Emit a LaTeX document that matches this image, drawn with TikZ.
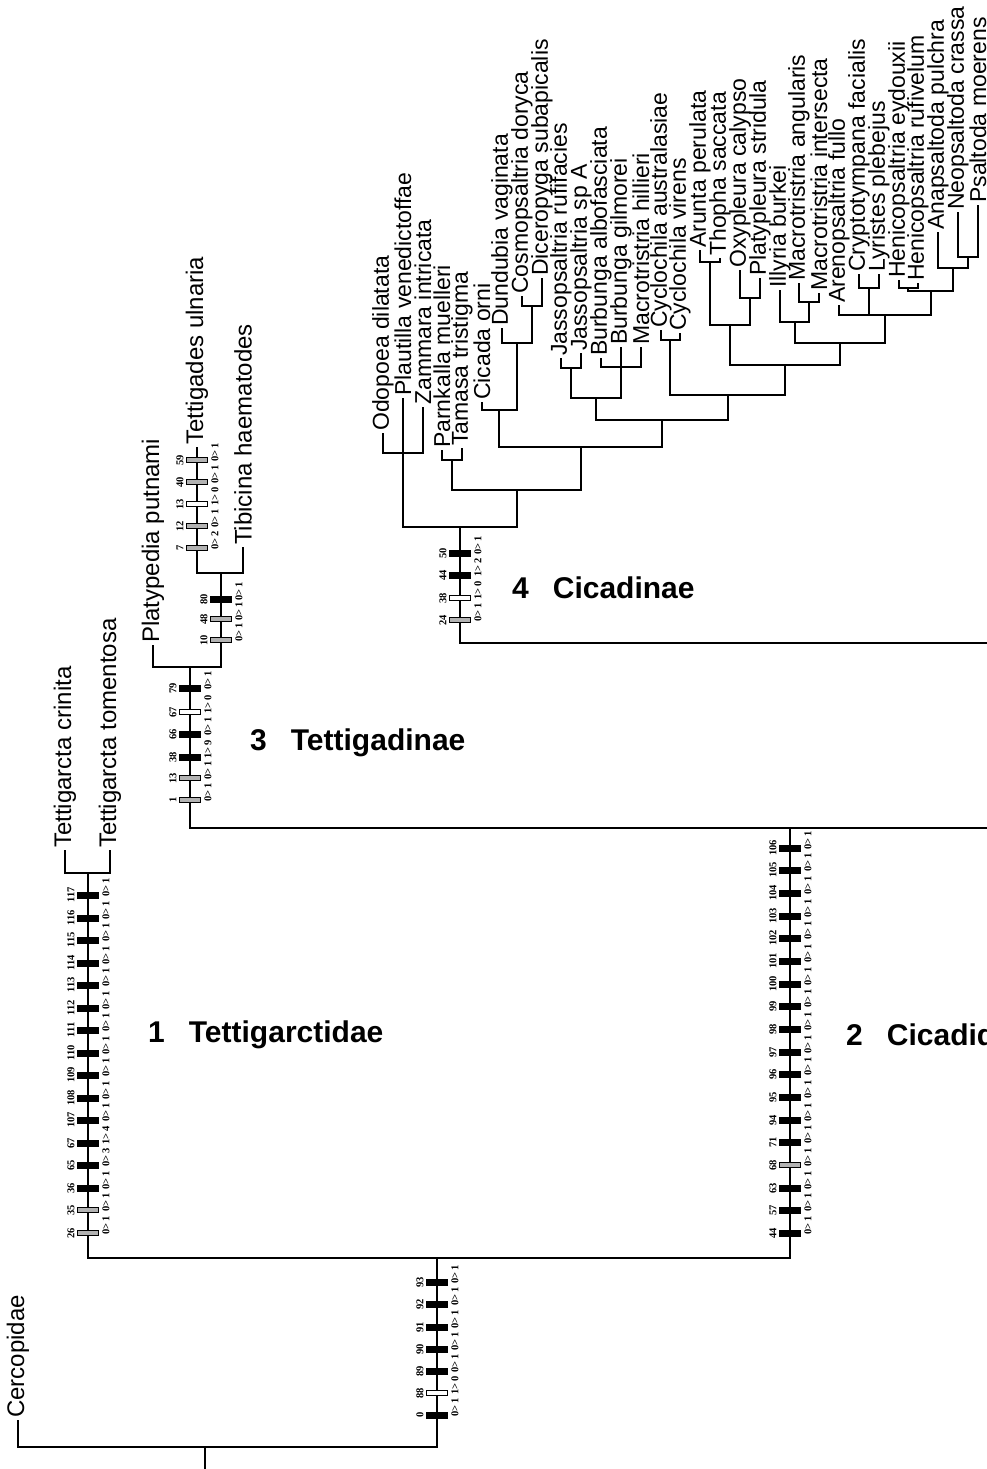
\documentclass[tikz,border=0pt]{standalone}
\usepackage{fontspec}
\setmainfont{Liberation Sans}
\newfontfamily\numfont{Liberation Serif}

\tikzset{
  br/.style={line width=2.2pt},                      % 分支线
  taxon/.style={rotate=90, anchor=west, inner sep=2pt,
    font=\fontsize{24}{24}\selectfont},              % 物种名（竖排）
  ctaxon/.style={taxon, font=\fontsize{23}{23}\selectfont}, % 蝉亚科内
  grp/.style={anchor=west, inner sep=0pt,
    font=\fontsize{30}{30}\selectfont\bfseries},     % 类群编号与名称
  blk/.style={rectangle, fill=black, inner sep=0pt,
    minimum width=22pt, minimum height=7pt},         % 实心：非同塑性变化
  opn/.style={rectangle, draw=black, fill=white, line width=0.9pt,
    inner sep=0pt, minimum width=21pt, minimum height=5.5pt}, % 空心：逆转
  hat/.style={rectangle, draw=black, fill=gray!60, line width=0.8pt,
    inner sep=0pt, minimum width=21pt, minimum height=5.5pt}, % 阴影：同塑性
  cnum/.style={rotate=90, inner sep=0pt,
    font=\numfont\fontsize{10.5}{10.5}\selectfont\bfseries},
  cst/.style={rotate=90, anchor=west, inner sep=0pt,
    font=\numfont\fontsize{10.5}{10.5}\selectfont\bfseries},
}

% 状态变化 a>b，箭头后留一点空
\def\sttx#1>#2\relax{#1>\kern2.5pt#2}
\newcommand\stt[1]{\sttx#1\relax}

% 枝上的性状标记：#1 枝的 x，#2 列表 y/性状号/状态变化/样式
\newcommand\chrbar[2]{%
  \foreach \my/\mn/\ms/\mt in {#2}{%
    \node[\mt] (k#1-\mn) at (#1,\my) {};
    \node[cnum] (kn#1-\mn) at (#1-17,\my) {\mn};
    \node[cst] (ks#1-\mn) at (#1+18,\my+2) {\expandafter\stt\expandafter{\ms}};
  }}

\begin{document}
\begin{tikzpicture}[x=1pt, y=-1pt]
  \useasboundingbox (0,0) rectangle (986,1469);

  % ===== 根与外群 =====
  \coordinate (root) at (205,1469);
  \coordinate (n0) at (205,1447);
  \coordinate (n12) at (437,1258);
  \node[taxon] (cerc) at (18,1420) {Cercopidae};
  \draw[br] (root) -- (n0);
  \draw[br] (n0) -| (cerc.west);
  \draw[br] (n0) -| (n12);

  % ===== 1 Tettigarctidae =====
  \coordinate (n1) at (88,873);
  \node[taxon] (tcri) at (65,850) {Tettigarcta crinita};
  \node[taxon] (ttom) at (110,850) {Tettigarcta tomentosa};
  \draw[br] (n12) -| (n1);
  \draw[br] (n1) -| (tcri.west);
  \draw[br] (n1) -| (ttom.west);

  % ===== 2 Cicadidae（右侧出图）=====
  \coordinate (n2) at (790,828);
  \coordinate (n2r) at (1000,828);
  \coordinate (n3) at (190,667);
  \draw[br] (n12) -| (n2);
  \draw[br] (n2) -- (n2r);
  \draw[br] (n2) -| (n3);

  % ----- 3 Tettigadinae -----
  \coordinate (n3b) at (221,573);
  \node[taxon] (plat) at (153,645) {Platypedia putnami};
  \node[taxon] (tett) at (197,447) {Tettigades ulnaria};
  \node[taxon] (tibi) at (243,547) {Tibicina haematodes};
  \draw[br] (n3) -| (plat.west);
  \draw[br] (n3) -| (n3b);
  \draw[br] (n3b) -| (tett.west);
  \draw[br] (n3b) -| (tibi.west);

  % ----- 4 Cicadinae -----
  \coordinate (n4r) at (1000,643);
  \coordinate (n4) at (460,527);
  \draw[br] (n4r) -| (n4);

  % 末端类群 名称/x/y/标签
  \foreach \nm/\tx/\ty/\lab in {
    odo/383/433/Odopoea dilatata, pla/403/398/Plautilla venedictoffae,
    zam/423/407/Zammara intricata, par/442/450/Parnkalla muelleri,
    tam/462/448/Tamasa tristigma, cic/482/402/Cicada orni,
    dun/502/328/Dundubia vaginata, cos/522/296/Cosmopsaltria doryca,
    dic/542/278/Diceropyga subapicalis, jru/561/358/Jassopsaltria rufifacies,
    jsp/581/353/Jassopsaltria sp A, bal/601/358/Burbunga albofasciata,
    bgi/621/347/Burbunga gilmorei, mhi/641/347/Macrotristria hillieri,
    cau/661/330/Cyclochila australasiae, cvi/680/333/Cyclochila virens,
    aru/700/250/Arunta perulata, tho/720/258/Thopha saccata,
    oxy/740/270/Oxypleura calypso, pls/760/278/Platypleura stridula,
    ill/780/290/Illyria burkei, man/799/283/Macrotristria angularis,
    min/819/293/Macrotristria intersecta, are/839/305/Arenopsaltria fullo,
    cry/859/274/Cryptotympana facialis, lyr/879/274/Lyristes plebejus,
    hey/899/280/Henicopsaltria eydouxii, hru/918/283/Henicopsaltria rufivelum,
    ana/938/232/Anapsaltoda pulchra, neo/958/212/Neopsaltoda crassa,
    psa/978/205/Psaltoda moerens}
    \node[ctaxon] (\nm) at (\tx,\ty) {\lab};

  % 内部节点（竖枝 x，横枝 y）
  \coordinate (nOPZ) at (403,453);
  \coordinate (nPX) at (517,490);
  \coordinate (nPT) at (452,460);
  \coordinate (nX) at (581,447);
  \coordinate (nCO) at (499,410);
  \coordinate (nDN) at (517,343);
  \coordinate (nCS) at (532,306);
  \coordinate (nY) at (662,420);
  \coordinate (nJB) at (596,398);
  \coordinate (nJA) at (571,368);
  \coordinate (nBU) at (621,367);
  \coordinate (nZ) at (728,395);
  \coordinate (nCY) at (670,340);
  \coordinate (nW) at (785,365);
  \coordinate (nAO) at (730,325);
  \coordinate (nAT) at (710,262);
  \coordinate (nOP) at (750,298);
  \coordinate (nIA) at (840,343);
  \coordinate (nIL) at (795,322);
  \coordinate (nMM) at (809,302);
  \coordinate (nAR) at (885,315);
  \coordinate (nCL) at (869,288);
  \coordinate (nHA) at (931,291);
  \coordinate (nHE) at (908,288);
  \coordinate (nAN) at (953,268);
  \coordinate (nNP) at (968,257);

  \foreach \p/\c in {n4/nOPZ, n4/nPX, nPX/nPT, nPX/nX, nX/nCO, nX/nY,
    nCO/nDN, nDN/nCS, nY/nJB, nY/nZ, nJB/nJA, nJB/nBU, nZ/nCY, nZ/nW,
    nW/nAO, nW/nIA, nAO/nAT, nAO/nOP, nIA/nIL, nIA/nAR, nIL/nMM,
    nAR/nCL, nAR/nHA, nHA/nHE, nHA/nAN, nAN/nNP}
    \draw[br] (\p) -| (\c);

  \foreach \p/\c in {nOPZ/odo, nOPZ/pla, nOPZ/zam, nPT/par, nPT/tam,
    nCO/cic, nDN/dun, nCS/cos, nCS/dic, nJA/jru, nJA/jsp, nBU/bal,
    nBU/bgi, nBU/mhi, nCY/cau, nCY/cvi, nAT/aru, nAT/tho, nOP/oxy,
    nOP/pls, nIL/ill, nMM/man, nMM/min, nAR/are, nCL/cry, nCL/lyr,
    nHE/hey, nHE/hru, nAN/ana, nNP/neo, nNP/psa}
    \draw[br] (\p) -| (\c.west);

  % ===== 性状标记 =====
  \chrbar{437}{1415/0/0>1/blk, 1393/88/1>0/opn, 1371/89/0>1/blk,
    1349/90/0>1/blk, 1327/91/0>1/blk, 1304/92/0>1/blk, 1282/93/0>1/blk}

  \chrbar{88}{1233/26/0>1/hat, 1210/35/0>1/hat, 1188/36/0>1/blk,
    1165/65/0>3/blk, 1143/67/1>4/blk, 1120/107/0>1/blk, 1098/108/0>1/blk,
    1075/109/0>1/blk, 1053/110/0>1/blk, 1030/111/0>1/blk, 1008/112/0>1/blk,
    985/113/0>1/blk, 963/114/0>1/blk, 940/115/0>1/blk, 918/116/0>1/blk,
    895/117/0>1/blk}

  \chrbar{790}{1233/44/0>1/blk, 1210/57/0>1/blk, 1188/63/0>1/blk,
    1165/68/0>1/hat, 1142/71/0>1/blk, 1120/94/0>1/blk, 1097/95/0>1/blk,
    1074/96/0>1/blk, 1052/97/0>1/blk, 1029/98/0>1/blk, 1006/99/0>1/blk,
    984/100/0>1/blk, 961/101/0>1/blk, 938/102/0>1/blk, 916/103/0>1/blk,
    893/104/0>1/blk, 870/105/0>1/blk, 848/106/0>1/blk}

  \chrbar{190}{800/1/0>1/hat, 778/13/0>1/hat, 757/38/1>9/blk,
    734/66/0>1/blk, 712/67/1>0/opn, 688/79/0>1/blk}

  \chrbar{221}{640/10/0>1/hat, 619/48/0>1/hat, 599/80/0>1/blk}

  \chrbar{197}{548/7/0>2/hat, 526/12/0>1/hat, 504/13/1>0/opn,
    482/40/0>1/hat, 460/59/0>1/hat}

  \chrbar{460}{620/24/0>1/hat, 598/38/1>0/opn, 575/44/1>2/blk,
    553/50/0>1/blk}

  % ===== 类群名称 =====
  \node[grp] (g1) at (148,1035) {1\hspace{0.8em}Tettigarctidae};
  \node[grp] (g2) at (846,1035) {2\hspace{0.8em}Cicadidae};
  \node[grp] (g3) at (250,743) {3\hspace{0.8em}Tettigadinae};
  \node[grp] (g4) at (512,588) {4\hspace{0.8em}Cicadinae};
\end{tikzpicture}
\end{document}
